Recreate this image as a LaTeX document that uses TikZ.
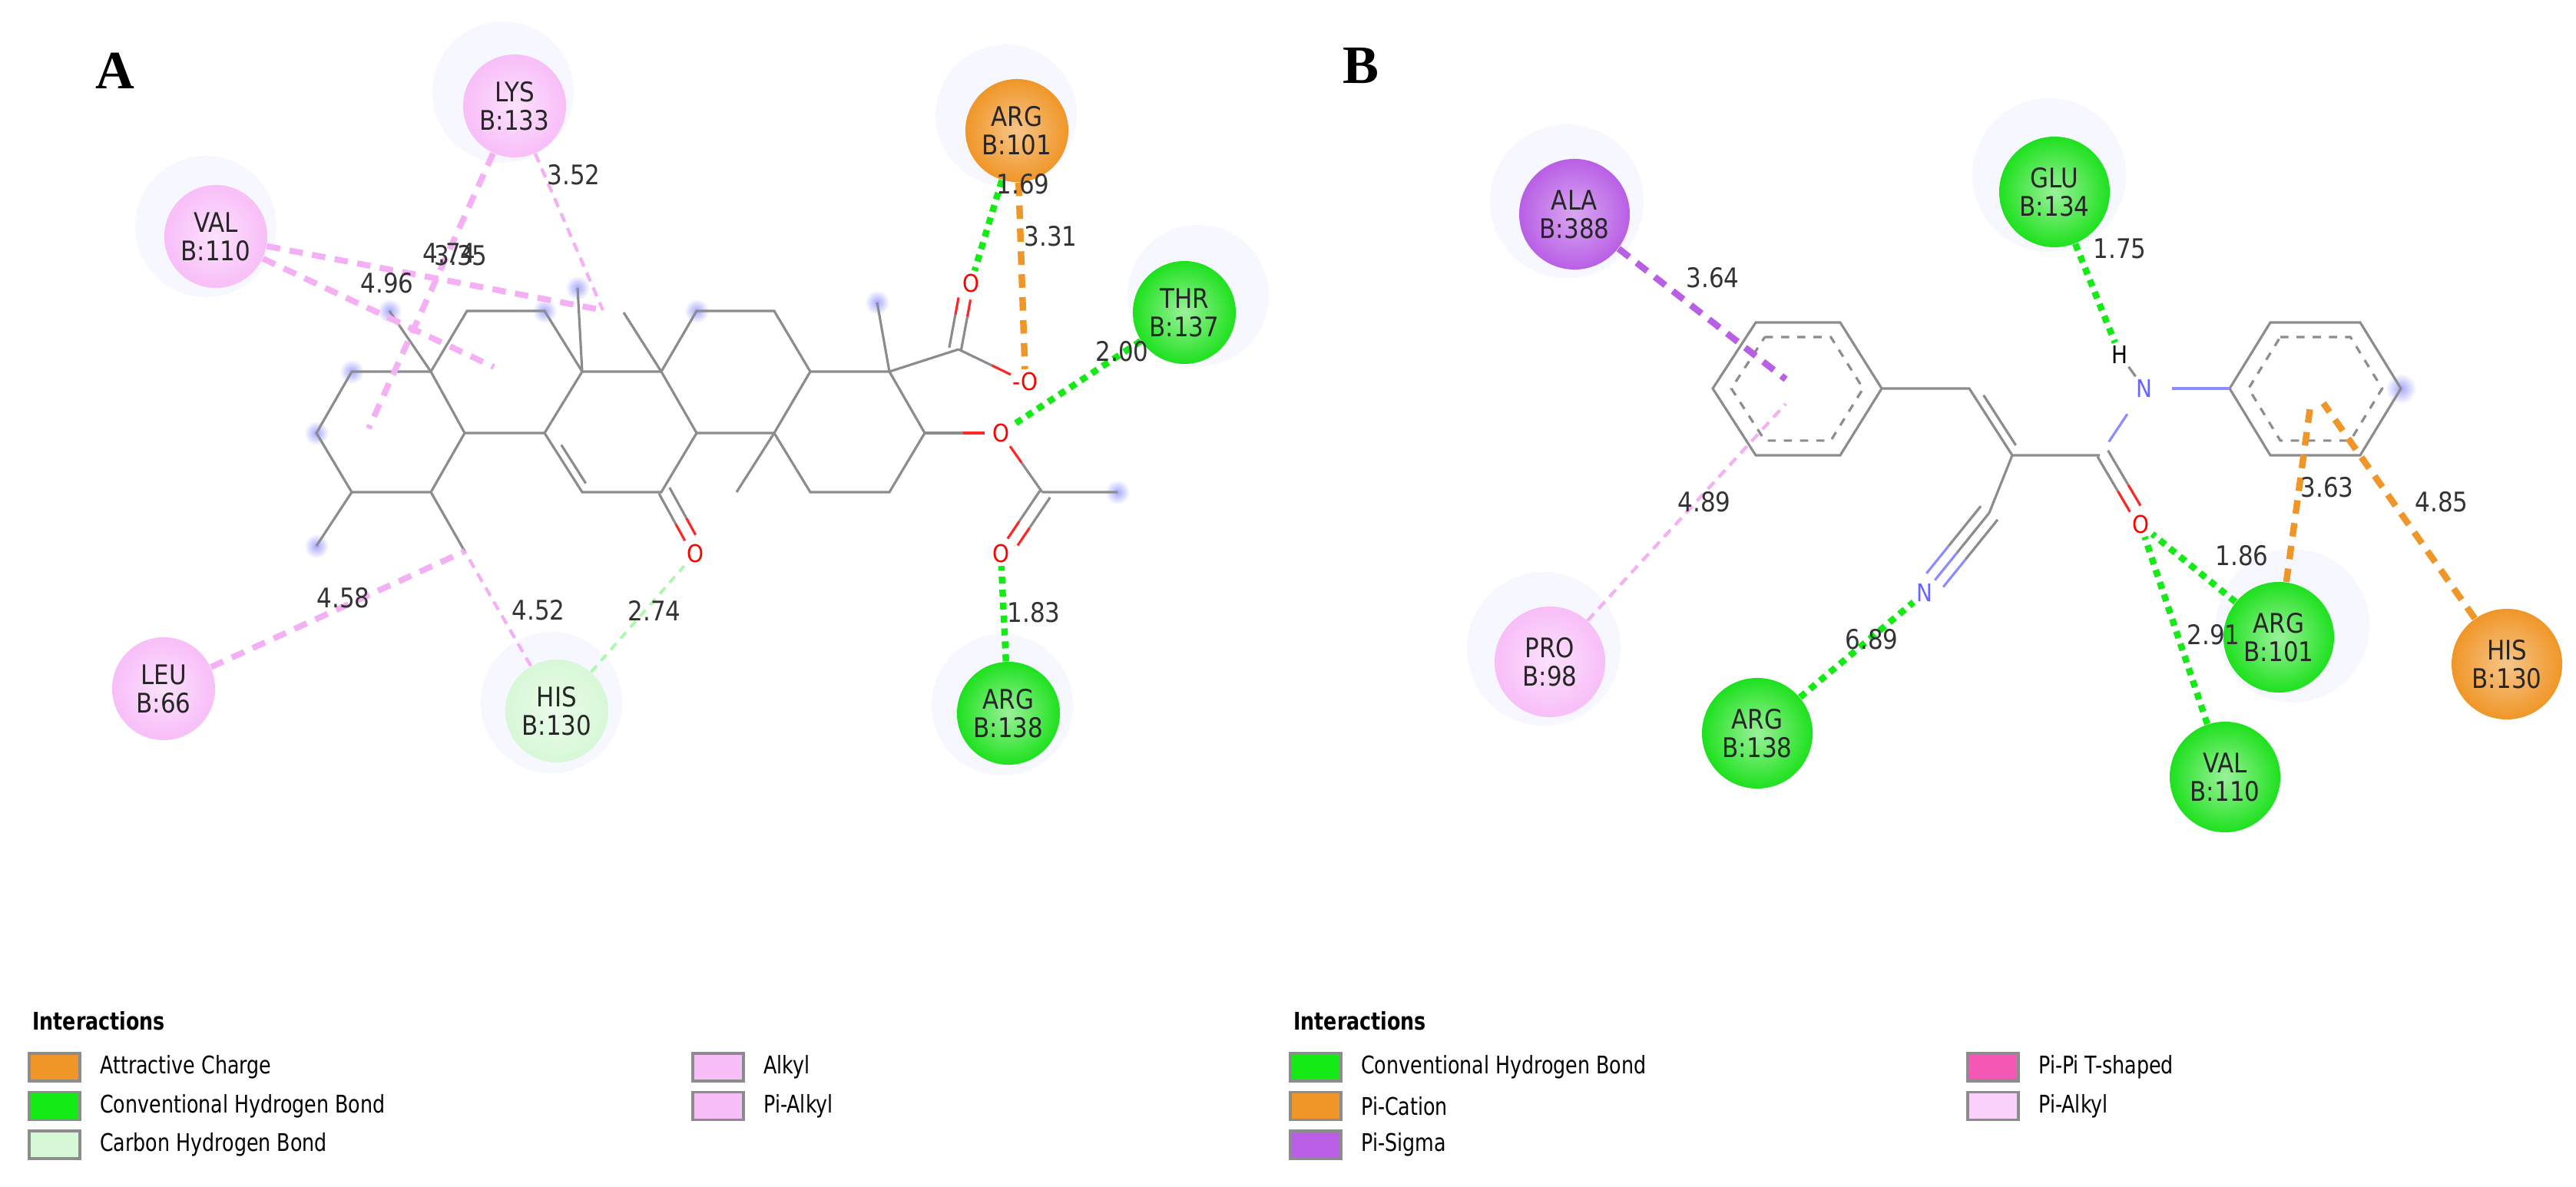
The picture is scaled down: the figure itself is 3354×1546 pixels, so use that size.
\documentclass[tikz,border=0pt]{standalone}
\usepackage{fontspec}
\setmainfont{DejaVu Sans}
\newfontfamily\narrowf{DejaVu Sans}[FakeStretch=0.88]
\newfontfamily\legf{DejaVu Sans}[FakeStretch=0.8]
\newfontfamily\panelf{Liberation Serif}
\usetikzlibrary{positioning, calc}
\definecolor{pk}{RGB}{248,190,248}
\definecolor{gr}{RGB}{30,225,30}
\definecolor{og}{RGB}{240,150,40}
\definecolor{pu}{RGB}{185,95,230}
\definecolor{lg}{RGB}{215,248,215}
\definecolor{hb}{RGB}{20,235,20}
\definecolor{pkl}{RGB}{245,175,245}
\tikzset{
  res/.style = {circle, minimum size=1.34cm, inner sep=0pt, align=center,
    font=\narrowf\fontsize{10}{10.5}\selectfont, text=black!85},
  big/.style = {minimum size=1.44cm},
  pinkres/.style = {res, inner color=white!55!pk, outer color=pk},
  greenres/.style = {res, inner color=white!55!gr, outer color=gr},
  orangeres/.style = {res, inner color=white!45!og, outer color=og},
  purpleres/.style = {res, inner color=white!45!pu, outer color=pu},
  lgres/.style = {res, inner color=white!50!lg, outer color=lg},
  halo/.style = {fill=blue!3},
  glow/.style = {inner color=blue!35, outer color=white},
  bond/.style = {draw=black!45, line width=0.9pt},
  obond/.style = {draw=red!85, line width=0.9pt, shorten >=6pt},
  nbond/.style = {draw=blue!45, line width=0.9pt, shorten >=6pt},
  atomO/.style = {font=\narrowf\fontsize{9}{9}\selectfont, text=red, inner sep=1pt},
  atomN/.style = {font=\narrowf\fontsize{9}{9}\selectfont, text=blue!60, inner sep=1pt},
  dist/.style = {font=\narrowf\fontsize{10}{10}\selectfont, text=black!80, inner sep=1pt},
  hbond/.style = {draw=hb, line width=2.4pt, dash pattern=on 2.6pt off 2.2pt},
  chbond/.style = {draw=lg!80!green, line width=1.1pt, dash pattern=on 3pt off 2.5pt},
  alkyl/.style = {draw=pkl, line width=2.2pt, dash pattern=on 5pt off 3.5pt},
  thinalkyl/.style = {draw=pkl, line width=1.2pt, dash pattern=on 3.5pt off 2.5pt},
  charge/.style = {draw=og, line width=2.4pt, dash pattern=on 5pt off 3.5pt},
  sigma/.style = {draw=pu, line width=2.4pt, dash pattern=on 5pt off 3.5pt},
  swatch/.style = {draw=black!45, line width=1pt, minimum width=0.66cm, minimum height=0.36cm, inner sep=0pt},
  legtext/.style = {font=\legf\fontsize{9}{9}\selectfont, anchor=west, inner sep=0pt},
}
% bond from #1 to #2, offset #3 sideways, second half in style #4
\newcommand\halfbond[4]{%
  \path ($(#1)!#3!90:(#2)$) coordinate (hbA) ($(#2)!#3!-90:(#1)$) coordinate (hbB);
  \draw[bond] (hbA) -- ($(hbA)!.5!(hbB)$);
  \draw[#4] ($(hbA)!.5!(hbB)$) -- (hbB);}
\begin{document}
\begin{tikzpicture}[x=0.01cm, y=-0.01cm]
  \useasboundingbox (0,0) rectangle (3354,1546);
  % panel labels
  \node (labA) at (150,92) {\panelf\bfseries\fontsize{20}{20}\selectfont A};
  \node (labB) at (1772,86) {\panelf\bfseries\fontsize{20}{20}\selectfont B};

  % ---------- panel A : atoms
  \coordinate (a1) at (458,484); \coordinate (a2) at (561,484);
  \coordinate (a3) at (605,564); \coordinate (a4) at (561,641);
  \coordinate (a5) at (458,641); \coordinate (a6) at (412,564);
  \coordinate (b1) at (608,405); \coordinate (b2) at (709,405);
  \coordinate (b3) at (758,484); \coordinate (b4) at (709,564);
  \coordinate (c1) at (758,641); \coordinate (c2) at (861,641);
  \coordinate (c3) at (907,564); \coordinate (c4) at (861,484);
  \coordinate (d1) at (1008,564); \coordinate (d2) at (1055,484);
  \coordinate (d3) at (1008,405); \coordinate (d4) at (907,405);
  \coordinate (e1) at (1158,484); \coordinate (e2) at (1204,564);
  \coordinate (e3) at (1158,641); \coordinate (e4) at (1055,641);
  \coordinate (m1) at (507,405); \coordinate (m2) at (752,375);
  \coordinate (m3) at (812,407); \coordinate (m4) at (959,641);
  \coordinate (m5) at (1142,394); \coordinate (m6) at (412,711);
  \coordinate (m7) at (605,718);
  \coordinate (cc) at (1248,455); \coordinate (ca) at (1357,641);
  \coordinate (me) at (1455,641);
  \coordinate (oa1) at (1264,369); \coordinate (oa2) at (1335,497);
  \coordinate (oa3) at (1303,564); \coordinate (oa4) at (1303,721);
  \coordinate (oa5) at (905,721);
  % glows
  \foreach \p in {a1,a6,m1,b2,m2,d4,m5,m6,me}
    \shade[glow] (\p) circle (0.16cm);
  % halos
  \foreach \x/\y in {655/120, 268/295, 1310/150, 1560/385, 718/915, 1305/918}
    \fill[halo] (\x,\y) circle (0.92cm);
  % rings
  \draw[bond] (a1) -- (a2) -- (a3) -- (a4) -- (a5) -- (a6) -- cycle;
  \draw[bond] (a2) -- (b1) -- (b2) -- (b3) -- (b4) -- (a3);
  \draw[bond] (b3) -- (c4) -- (c3) -- (c2) -- (c1) -- (b4);
  \draw[bond] ($(b4)!0.2!(c1)+(12,0)$) -- ($(b4)!0.85!(c1)+(12,0)$);
  \draw[bond] (c4) -- (d4) -- (d3) -- (d2) -- (d1) -- (c3);
  \draw[bond] (d2) -- (e1) -- (e2) -- (e3) -- (e4) -- (d1);
  \draw[bond] (a2) -- (m1) (b3) -- (m2) (c4) -- (m3) (d1) -- (m4)
              (e1) -- (m5) (a5) -- (m6) (a4) -- (m7);
  \draw[bond] (e1) -- (cc) (ca) -- (me);
  % oxygens
  \node[atomO] (o1) at (oa1) {O};
  \node[atomO] (o2) at (oa2) {-O};
  \node[atomO] (o3) at (oa3) {O};
  \node[atomO] (o4) at (oa4) {O};
  \node[atomO] (o5) at (oa5) {O};
  \halfbond{cc}{oa1}{3.5pt}{obond}
  \halfbond{cc}{oa1}{-1pt}{obond}
  \halfbond{cc}{oa2}{0pt}{obond}
  \halfbond{e2}{oa3}{0pt}{obond}
  \halfbond{ca}{oa3}{0pt}{obond}
  \halfbond{ca}{oa4}{3.5pt}{obond}
  \halfbond{ca}{oa4}{-1pt}{obond}
  \halfbond{c2}{oa5}{3.5pt}{obond}
  \halfbond{c2}{oa5}{-1pt}{obond}

  % panel A : residues
  \node[pinkres] (lys) at (670,138) {LYS\\B:133};
  \node[orangeres] (arg101) at (1324,170) {ARG\\B:101};
  \node[pinkres] (val) at (281,308) {VAL\\B:110};
  \node[greenres] (thr) at (1542,407) {THR\\B:137};
  \node[pinkres] (leu) at (213,897) {LEU\\B:66};
  \node[lgres] (his) at (725,926) {HIS\\B:130};
  \node[greenres] (arg138) at (1313,929) {ARG\\B:138};
  % panel A : interactions
  \coordinate (ta) at (480,558); \coordinate (tb) at (785,404);
  \coordinate (tc) at (643,478);
  \draw[alkyl] (lys) -- (ta);
  \draw[thinalkyl] (lys) -- (tb);
  \draw[alkyl] (val) -- (tb);
  \draw[alkyl] (val) -- (tc);
  \draw[alkyl] (leu) -- (m7);
  \draw[thinalkyl] (his) -- (m7);
  \draw[chbond] (his) -- (o5);
  \draw[hbond] (arg101) -- (o1);
  \draw[charge] (arg101) -- (o2);
  \draw[hbond] (thr) -- (o3);
  \draw[hbond] (arg138) -- (o4);
  \node[dist] at (747,228) {3.52};
  \node[dist] at (585,330) {4.74};
  \node[dist] at (600,333) {3.35};
  \node[dist] at (504,369) {4.96};
  \node[dist] at (447,779) {4.58};
  \node[dist] at (701,795) {4.52};
  \node[dist] at (852,795) {2.74};
  \node[dist] at (1332,240) {1.69};
  \node[dist] at (1368,308) {3.31};
  \node[dist] at (1461,458) {2.00};
  \node[dist] at (1346,798) {1.83};

  % ---------- panel B : atoms
  \coordinate (r1) at (2286,420); \coordinate (r2) at (2396,420);
  \coordinate (r3) at (2450,506); \coordinate (r4) at (2396,593);
  \coordinate (r5) at (2286,593); \coordinate (r6) at (2230,506);
  \coordinate (rc) at (2340,506);
  \coordinate (s1) at (2956,420); \coordinate (s2) at (3073,420);
  \coordinate (s3) at (3126,506); \coordinate (s4) at (3073,593);
  \coordinate (s5) at (2956,593); \coordinate (s6) at (2903,506);
  \coordinate (sc) at (3015,506);
  \coordinate (v1) at (2564,506); \coordinate (v2) at (2620,593);
  \coordinate (am) at (2734,593); \coordinate (cn) at (2590,668);
  \coordinate (nb) at (2792,506); \coordinate (ncx) at (2506,772);
  \coordinate (obx) at (2787,683);
  \shade[glow] (s3) circle (0.2cm);
  \foreach \x/\y in {2040/262, 2668/228, 2010/845, 2985/815}
    \fill[halo] (\x,\y) circle (1cm);
  \draw[bond] (r1) -- (r2) -- (r3) -- (r4) -- (r5) -- (r6) -- cycle;
  \draw[bond, dashed] ($(rc)!0.78!(r1)$) -- ($(rc)!0.78!(r2)$) -- ($(rc)!0.78!(r3)$)
     -- ($(rc)!0.78!(r4)$) -- ($(rc)!0.78!(r5)$) -- ($(rc)!0.78!(r6)$) -- cycle;
  \draw[bond] (s1) -- (s2) -- (s3) -- (s4) -- (s5) -- (s6) -- cycle;
  \draw[bond, dashed] ($(sc)!0.78!(s1)$) -- ($(sc)!0.78!(s2)$) -- ($(sc)!0.78!(s3)$)
     -- ($(sc)!0.78!(s4)$) -- ($(sc)!0.78!(s5)$) -- ($(sc)!0.78!(s6)$) -- cycle;
  \draw[bond] (r3) -- (v1) -- (v2) -- (am) (v2) -- (cn);
  \draw[bond] ($(v1)!0.1!(v2)+(13,0)$) -- ($(v2)!0.15!(v1)+(13,0)$);
  \node[atomN] (nn) at (nb) {N};
  \node[font=\narrowf\fontsize{9}{9}\selectfont, inner sep=1pt] (hh) at (2760,462) {H};
  \node[atomN] (nc) at (ncx) {N};
  \node[atomO] (ob) at (obx) {O};
  \draw[nbond, shorten <=6pt] (am) -- (nn); \draw[nbond, shorten <=6pt, shorten >=0pt] (nn) -- (s6);
  \draw[bond] (nn) -- (hh);
  \halfbond{am}{obx}{3.5pt}{obond}
  \halfbond{am}{obx}{-1pt}{obond}
  \halfbond{cn}{ncx}{0pt}{nbond}
  \halfbond{cn}{ncx}{4pt}{nbond}
  \halfbond{cn}{ncx}{-4pt}{nbond}

  % panel B : residues
  \node[purpleres, big] (ala) at (2050,279) {ALA\\B:388};
  \node[greenres, big] (glu) at (2675,250) {GLU\\B:134};
  \node[pinkres, big] (pro) at (2018,862) {PRO\\B:98};
  \node[greenres, big] (argb) at (2288,955) {ARG\\B:138};
  \node[greenres, big] (valb) at (2897,1012) {VAL\\B:110};
  \node[orangeres, big] (hisb) at (3264,865) {HIS\\B:130};
  % panel B : interactions
  \coordinate (pa) at (2325,494); \coordinate (pb) at (2325,526);
  \coordinate (pc) at (3009,522); \coordinate (pd) at (3025,525);
  \draw[sigma] (ala) -- (pa);
  \draw[thinalkyl] (pro) -- (pb);
  \draw[hbond] (glu) -- (hh);
  \draw[hbond] (argb) -- (nc);
  \draw[hbond] (valb) -- (ob);
  \draw[charge] (hisb) -- (pd);
  \node[greenres, big] (argb101) at (2967,830) {ARG\\B:101};
  \draw[hbond] (argb101) -- (ob);
  \draw[charge] (argb101) -- (pc);
  \node[dist] at (2230,362) {3.64};
  \node[dist] at (2219,654) {4.89};
  \node[dist] at (2760,324) {1.75};
  \node[dist] at (2437,833) {6.89};
  \node[dist] at (2919,724) {1.86};
  \node[dist] at (2882,827) {2.91};
  \node[dist] at (3030,635) {3.63};
  \node[dist] at (3179,654) {4.85};

  % ---------- legends
  \node[font=\legf\bfseries\fontsize{9}{9}\selectfont, anchor=west] (intA) at (30,1330) {Interactions};
  \node[swatch, fill=og, anchor=west] (kA1) at (36,1390) {};
  \node[swatch, fill=hb, below=0.11cm of kA1] (kA2) {};
  \node[swatch, fill=lg, below=0.11cm of kA2] (kA3) {};
  \node[legtext, right=0.24cm of kA1] {Attractive Charge};
  \node[legtext, right=0.24cm of kA2] {Conventional Hydrogen Bond};
  \node[legtext, right=0.24cm of kA3] {Carbon Hydrogen Bond};
  \node[swatch, fill=pk, anchor=west] (kA4) at (900,1390) {};
  \node[swatch, fill=pk, below=0.11cm of kA4] (kA5) {};
  \node[legtext, right=0.24cm of kA4] {Alkyl};
  \node[legtext, right=0.24cm of kA5] {Pi-Alkyl};

  \node[font=\legf\bfseries\fontsize{9}{9}\selectfont, anchor=west] (intB) at (1672,1330) {Interactions};
  \node[swatch, fill=hb, anchor=west] (kB1) at (1678,1390) {};
  \node[swatch, fill=og, below=0.11cm of kB1] (kB2) {};
  \node[swatch, fill=pu, below=0.11cm of kB2] (kB3) {};
  \node[legtext, right=0.24cm of kB1] {Conventional Hydrogen Bond};
  \node[legtext, right=0.24cm of kB2] {Pi-Cation};
  \node[legtext, right=0.24cm of kB3] {Pi-Sigma};
  \node[swatch, fill=magenta!65, anchor=west] (kB4) at (2560,1390) {};
  \node[swatch, fill=pk!70, below=0.11cm of kB4] (kB5) {};
  \node[legtext, right=0.24cm of kB4] {Pi-Pi T-shaped};
  \node[legtext, right=0.24cm of kB5] {Pi-Alkyl};
\end{tikzpicture}
\end{document}
